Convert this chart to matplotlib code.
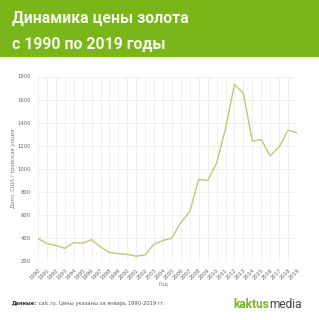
import matplotlib
matplotlib.use("Agg")
import matplotlib.pyplot as plt

years = list(range(1990, 2020))
prices = [395, 350, 335, 310, 360, 355, 385, 322, 275, 263,
          257, 242, 254, 345, 378, 400, 535, 628, 908, 898,
          1050, 1350, 1732, 1652, 1239, 1253, 1112, 1190, 1334, 1311]
year_labels = [str(y) for y in years]
y_ticks = [200, 400, 600, 800, 1000, 1200, 1400, 1600, 1800]

title_lines = ["Динамика цены золота", "с 1990 по 2019 годы"]
y_label = "Долл. США / тройская унция"
x_label = "Год"
source = "Данные:"
source_rest = " calc.ru. Цены указаны за январь 1990-2019 гг."

W, H = 319, 320
fig = plt.figure(figsize=(W / 100, H / 100), dpi=100)
fig.patch.set_facecolor("white")

# header band
fig.patches.append(plt.Rectangle((0, 1 - 57 / H), 1, 57 / H, transform=fig.transFigure,
                                 facecolor="#7ab51a", edgecolor="none", zorder=0))
fig.patches.append(plt.Rectangle((0, 1 - 59 / H), 1, 2 / H, transform=fig.transFigure,
                                 facecolor="#f0f6dc", edgecolor="none", zorder=0))
fig.text(12 / W, 1 - 18 / H, title_lines[0], color="#f4f9ea", fontsize=11.4,
         fontweight="bold", family="Roboto", va="center", ha="left")
fig.text(12 / W, 1 - 44 / H, title_lines[1], color="#f4f9ea", fontsize=11.4,
         fontweight="bold", family="Roboto", va="center", ha="left")

ax = fig.add_axes([38 / W, 1 - 261 / H, (297 - 38) / W, (261 - 76.5) / H])
ax.plot(years, prices, color="#c3c678", lw=1.0, zorder=3)
ax.set_xlim(1990, 2019)
ax.set_ylim(200, 1800)
ax.set_xticks(years)
ax.set_xticklabels(year_labels, rotation=45, ha="right", rotation_mode="anchor",
                   fontsize=3.8, color="#666666")
ax.set_yticks(y_ticks)
ax.set_yticklabels([str(v) for v in y_ticks], fontsize=3.8, color="#666666")
ax.tick_params(axis="x", length=0, pad=5)
ax.tick_params(axis="y", length=0, pad=5)
ax.grid(True, color="#ececec", lw=0.6)
for s in ax.spines.values():
    s.set_visible(False)
ax.set_axisbelow(True)

fig.text(163 / W, 1 - 284 / H, x_label, fontsize=3.8, color="#777777", ha="center", va="center")
fig.text(13 / W, 1 - 168 / H, y_label, fontsize=3.8, color="#777777", ha="center",
         va="center", rotation=90)

t1 = fig.text(12 / W, 1 - 303 / H, source, fontsize=3.7, color="#333333",
              fontweight="bold", ha="left", va="center")
fig.canvas.draw()
bb = t1.get_window_extent()
fig.text(bb.x1 / W, 1 - 303 / H, source_rest, fontsize=3.7, color="#555555",
         ha="left", va="center")

t2 = fig.text(233 / W, 1 - 305 / H, "kaktus", fontsize=8.6, color="#7ab51d",
              fontweight="bold", family="Roboto", ha="left", va="center")
fig.canvas.draw()
bb2 = t2.get_window_extent()
fig.text(bb2.x1 / W, 1 - 305 / H, "media", fontsize=8.6, color="#444444",
         family="Roboto", ha="left", va="center")

fig.savefig("out.png", dpi=100, facecolor="white")
